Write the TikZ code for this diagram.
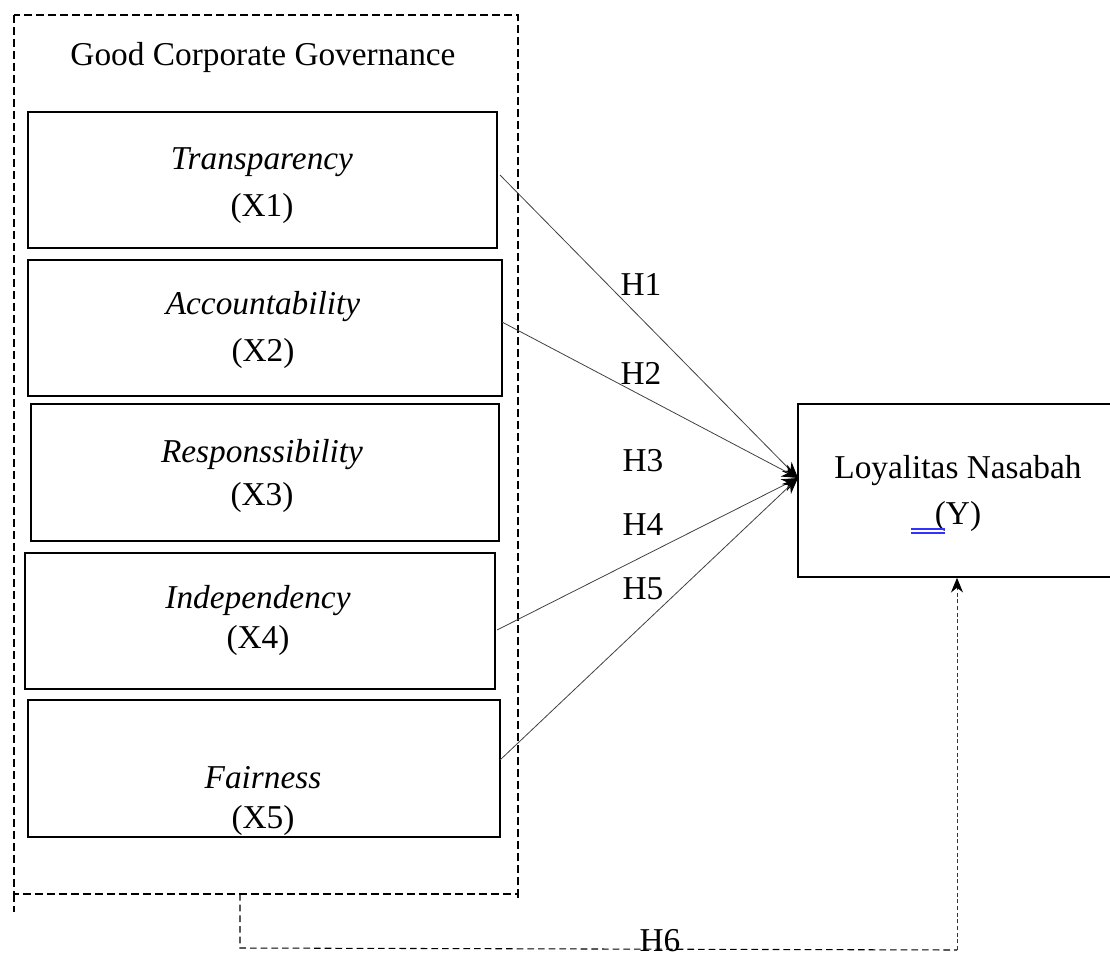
\documentclass[tikz,border=0pt]{standalone}
\usepackage{fontspec}
\setmainfont{Liberation Serif}
\usetikzlibrary{arrows.meta}
\begin{document}
\begin{tikzpicture}[x=0.75pt,y=-0.75pt,
  box/.style={draw=black,line width=1.2pt,inner sep=0pt},
  lbl/.style={font=\fontsize{25}{29}\selectfont,inner sep=0pt,anchor=center},
  hyp/.style={draw=black!75,line width=0.6pt,-{Stealth[length=12pt,width=10pt,black]}},
  dsh/.style={draw=black,line width=1pt,dash pattern=on 6pt off 3pt}
]
\useasboundingbox (0,0) rectangle (1110,958);
% outer dashed group
\draw[dsh] (14,15) rectangle (518,894);
\draw[dsh] (14,894) -- (14,912);
\draw[dsh] (518,894) -- (518,898);
\node[lbl] (gcg) at (263,57) {Good Corporate Governance};
% boxes
\node[box,minimum width=351.75pt,minimum height=102pt] (x1) at (262.5,180) {};
\node[box,minimum width=355.5pt,minimum height=102pt] (x2) at (265,328) {};
\node[box,minimum width=351pt,minimum height=102.75pt] (x3) at (265,472.5) {};
\node[box,minimum width=352.5pt,minimum height=102pt] (x4) at (260,621) {};
\node[box,minimum width=354pt,minimum height=102.75pt] (x5) at (264,768.5) {};
\node[box,minimum width=235.5pt,minimum height=129.75pt] (y) at (955,490.5) {};
% texts
\node[lbl] (t1a) at (262,162) {\textit{Transparency}};
\node[lbl] (t1b) at (262,208) {(X1)};
\node[lbl] (t2a) at (263,307) {\textit{Accountability}};
\node[lbl] (t2b) at (263,353) {(X2)};
\node[lbl] (t3a) at (262,455) {\textit{Responssibility}};
\node[lbl] (t3b) at (262,497) {(X3)};
\node[lbl] (t4a) at (258,601) {\textit{Independency}};
\node[lbl] (t4b) at (258,640) {(X4)};
\node[lbl] (t5a) at (263,778) {\textit{Fairness}};
\node[lbl] (t5b) at (263,820) {(X5)};
\node[lbl] (ya) at (958,471) {Loyalitas Nasabah};
\node[lbl] (yb) at (958,516) {(Y)};
\draw[blue!80,line width=0.8pt] (911,529) -- (945,529) (911,533) -- (945,533);
% connectors
\coordinate (tip) at (798,478);
\coordinate (s1) at (500,175);
\coordinate (s2) at (502,322);
\coordinate (s4) at (497,630);
\coordinate (s5) at (500,760);
\draw[hyp] (s1) -- (tip);
\draw[hyp] (s2) -- (tip);
\draw[hyp] (s4) -- (tip);
\draw[hyp] (s5) -- (tip);
\node[lbl] (h1) at (641,284) {H1};
\node[lbl] (h2) at (641,373) {H2};
\node[lbl] (h3) at (643,461) {H3};
\node[lbl] (h4) at (643,525) {H4};
\node[lbl] (h5) at (643,589) {H5};
% H6 dashed path
\coordinate (b1) at (240,894);
\coordinate (b2) at (240,948);
\coordinate (b3) at (957,950);
\draw[draw=black,line width=0.8pt,dash pattern=on 5pt off 3pt] (b1) -- (b2) -- (b3);
\draw[draw=black!80,line width=0.6pt,dash pattern=on 3pt off 2pt,-{Stealth[length=11pt,width=9pt,black]}] (b3) -- (y.south -| b3);
\node[lbl] (h6) at (660,941) {H6};
\end{tikzpicture}
\end{document}
